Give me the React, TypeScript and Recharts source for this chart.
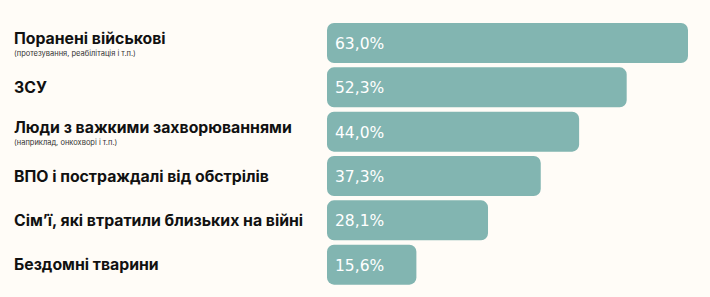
import * as React from "react";
import { BarChart, Bar, XAxis, YAxis, LabelList } from "recharts";

const categories = [
  "Поранені військові",
  "ЗСУ",
  "Люди з важкими захворюваннями",
  "ВПО і постраждалі від обстрілів",
  "Сім’ї, які втратили близьких на війні",
  "Бездомні тварини",
];

const subLabels = [
  "(протезування, реабілітація і т.п.)",
  "",
  "(наприклад, онкохворі і т.п.)",
  "",
  "",
  "",
];

const values = [63.0, 52.3, 44.0, 37.3, 28.1, 15.6];

const BAR_COLOR = "#82b5b1";
const BG = "#fffcf7";

// format as "63,0%"
const formatValue = (v: number) => v.toFixed(1).replace(".", ",") + "%";

function CategoryTick({ y, payload }: any) {
  const idx = payload?.index ?? 0;
  const sub = subLabels[idx];
  return (
    <g>
      <text
        x={14}
        y={sub ? y - 4.5 : y}
        dominantBaseline="central"
        textAnchor="start"
        fontFamily="Inter, 'Noto Sans', sans-serif"
        fontWeight={700}
        fontSize={15.8}
        fill="#111"
      >
        {payload.value}
      </text>
      {sub && (
        <text
          x={14}
          y={y + 10.5}
          dominantBaseline="central"
          textAnchor="start"
          fontFamily="Inter, 'Noto Sans', sans-serif"
          fontSize={7.5}
          fill="#333"
        >
          {sub}
        </text>
      )}
    </g>
  );
}

function ValueLabel({ x, y, height, value }: any) {
  return (
    <text
      x={x + 8}
      y={y + height / 2 + 1}
      dominantBaseline="central"
      fontFamily="'DejaVu Sans', sans-serif"
      fontSize={15.5}
      fill="#ffffff"
    >
      {formatValue(value)}
    </text>
  );
}

export default function App() {
  const data = categories.map((name, i) => ({ name, value: values[i] }));

  return (
    <div
      style={{
        position: "absolute",
        left: 0,
        top: 0,
        width: 710,
        height: 297,
        background: BG,
      }}
    >
      <BarChart
        width={710}
        height={297}
        data={data}
        layout="vertical"
        margin={{ top: 21, right: 22, bottom: 10, left: 0 }}
        barSize={40}
      >
        <XAxis type="number" domain={[0, 63]} hide />
        <YAxis
          type="category"
          dataKey="name"
          width={327}
          axisLine={false}
          tickLine={false}
          tick={<CategoryTick />}
          interval={0}
        />
        <Bar
          dataKey="value"
          fill={BAR_COLOR}
          radius={7}
          isAnimationActive={false}
        >
          <LabelList dataKey="value" content={<ValueLabel />} />
        </Bar>
      </BarChart>
    </div>
  );
}
